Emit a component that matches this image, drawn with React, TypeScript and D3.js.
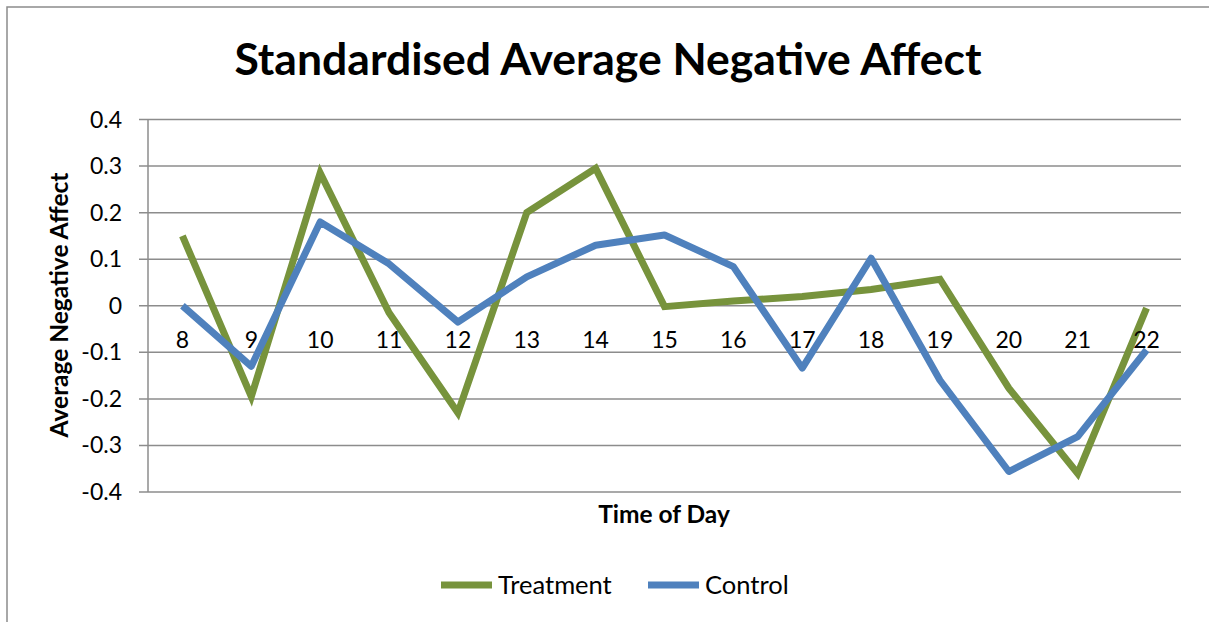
import React from "react";
import * as d3 from "d3";

const categories = ["8", "9", "10", "11", "12", "13", "14", "15", "16", "17", "18", "19", "20", "21", "22"];
const treatment = [0.15, -0.195, 0.285, -0.015, -0.23, 0.2, 0.295, -0.002, 0.01, 0.02, 0.035, 0.057, -0.177, -0.36, -0.005];
const control = [0.0, -0.13, 0.18, 0.09, -0.035, 0.062, 0.13, 0.152, 0.084, -0.134, 0.102, -0.16, -0.356, -0.281, -0.095];
const yTicks = [0.4, 0.3, 0.2, 0.1, 0, -0.1, -0.2, -0.3, -0.4];

const W = 1209;
const H = 622;
const left = 148;
const right = 1181;
const top = 119.5;
const bottom = 492;
const GREEN = "#77933C";
const BLUE = "#4F81BD";
const GRID = "#8c8c8c";
const FONT = "Lato, 'Open Sans', sans-serif";

export default function App() {
  const x = d3.scaleBand<string>().domain(categories).range([left, right]);
  const y = d3.scaleLinear().domain([-0.4, 0.4]).range([bottom, top]);
  const cx = (c: string) => (x(c) as number) + x.bandwidth() / 2;
  const line = d3
    .line<number>()
    .x((_, i) => cx(categories[i]))
    .y((d) => y(d));

  return (
    <svg
      width={W}
      height={H}
      style={{ position: "absolute", left: 0, top: 0, background: "#fff" }}
      fontFamily={FONT}
    >
      <rect x={7} y={7} width={1400} height={800} fill="#fff" stroke="#8c8c8c" strokeWidth={1.5} />
      <text x={608} y={75} textAnchor="middle" fontSize={44.5} fontWeight="bold" fill="#000">
        Standardised Average Negative Affect
      </text>
      {yTicks.map((t) => (
        <g key={t}>
          <line x1={left - 9} x2={right} y1={y(t)} y2={y(t)} stroke={GRID} strokeWidth={1.5} />
          <text x={122} y={y(t) + 8} textAnchor="end" fontSize={23} fill="#000">
            {t === 0 ? "0" : t.toFixed(1)}
          </text>
        </g>
      ))}
      <line x1={left} x2={left} y1={top} y2={bottom} stroke={GRID} strokeWidth={1.5} />
      <path d={line(treatment) || ""} fill="none" stroke={GREEN} strokeWidth={7} strokeLinejoin="miter" />
      <path d={line(control) || ""} fill="none" stroke={BLUE} strokeWidth={7} strokeLinejoin="round" />
      {categories.map((c) => (
        <text key={c} x={cx(c)} y={348} textAnchor="middle" fontSize={23} fill="#000">
          {c}
        </text>
      ))}
      <text
        transform={`translate(68,305) rotate(-90)`}
        textAnchor="middle"
        fontSize={24.5}
        fontWeight="bold"
        fill="#000"
      >
        Average Negative Affect
      </text>
      <text x={664} y={523} textAnchor="middle" fontSize={24.5} fontWeight="bold" fill="#000">
        Time of Day
      </text>
      <line x1={441} x2={492} y1={585} y2={585} stroke={GREEN} strokeWidth={7} />
      <text x={498} y={594} fontSize={25.5} fill="#000">Treatment</text>
      <line x1={648} x2={699} y1={585} y2={585} stroke={BLUE} strokeWidth={7} />
      <text x={705} y={594} fontSize={25.5} fill="#000">Control</text>
    </svg>
  );
}
